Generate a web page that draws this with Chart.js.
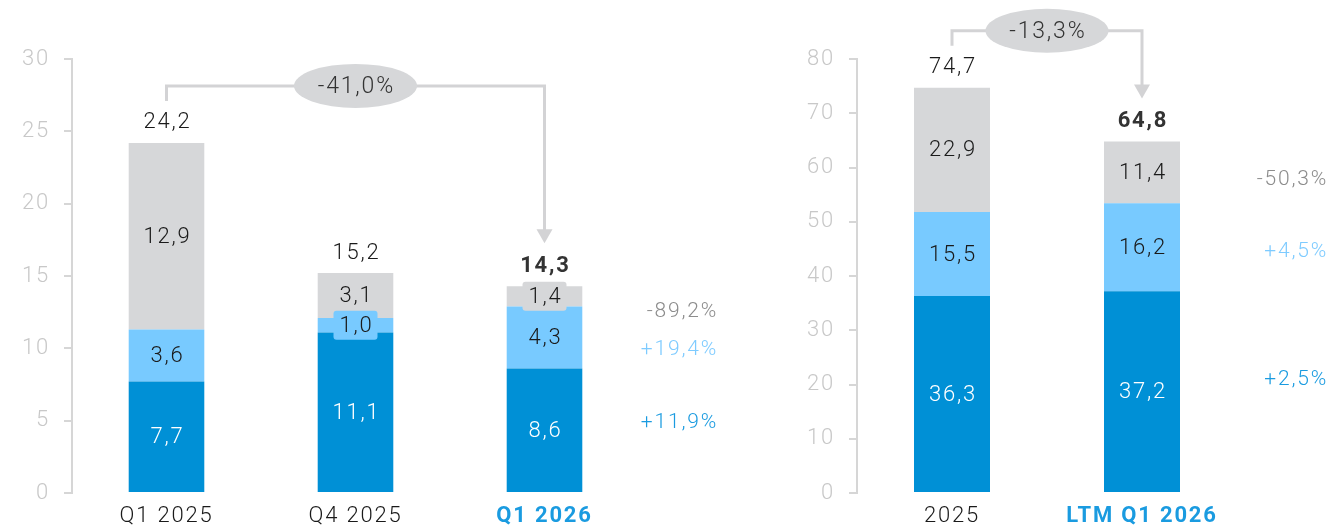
<!DOCTYPE html>
<html><head><meta charset="utf-8">
<script src="https://cdn.jsdelivr.net/npm/chart.js@4/dist/chart.umd.min.js"></script>
<style>
html,body{margin:0;padding:0;background:#fff;width:1333px;height:529px;overflow:hidden}
#c1{position:absolute;left:0;top:0}
#c2{position:absolute;left:740px;top:0}
</style></head><body>
<canvas id="c1" width="740" height="529"></canvas>
<canvas id="c2" width="593" height="529"></canvas>
<script>
// ---- Data: quarterly panel ----
const quarterCategories = ['Q1 2025', 'Q4 2025', 'Q1 2026'];
const quarterBlue  = [7.7, 11.1, 8.6];
const quarterLight = [3.6, 1.0, 4.3];
const quarterGrey  = [12.9, 3.1, 1.4];
const quarterTotals = [24.2, 15.2, 14.3];
const quarterChanges = ['+11,9%', '+19,4%', '-89,2%']; // blue, light, grey
const quarterGrowth = '-41,0%';
const quarterTicks = [0, 5, 10, 15, 20, 25, 30];

// ---- Data: annual panel ----
const yearCategories = ['2025', 'LTM Q1 2026'];
const yearBlue  = [36.3, 37.2];
const yearLight = [15.5, 16.2];
const yearGrey  = [22.9, 11.4];
const yearTotals = [74.7, 64.8];
const yearChanges = ['+2,5%', '+4,5%', '-50,3%']; // blue, light, grey
const yearGrowth = '-13,3%';
const yearTicks = [0, 10, 20, 30, 40, 50, 60, 70, 80];

const FONT = 'Roboto, "Liberation Sans", Arial, sans-serif';
const SPACING = '1.8px';
const COL_BLUE = '#0090d6';
const COL_LIGHT = '#78caff';
const COL_GREY = '#d6d7d9';
const CHANGE_COLORS = ['#1a9be0', '#7ecbff', '#8c8c8c'];

function fmt(v) { return v.toFixed(1).replace('.', ','); }

function centerText(ctx, txt, x, y) {
  // compensate trailing letter spacing so text stays centred
  ctx.textAlign = 'center';
  ctx.fillText(txt, x + 0.9, y);
}

function makePlugin(cfg) {
  return {
    id: 'annotations',
    beforeDraw(chart) { chart.ctx.letterSpacing = SPACING; },
    afterDatasetsDraw(chart) {
      const ctx = chart.ctx;
      const ca = chart.chartArea;
      const ys = chart.scales.y;
      const n = chart.data.labels.length;
      ctx.save();
      ctx.letterSpacing = SPACING;
      // segment labels
      chart.data.datasets.forEach((ds, di) => {
        const meta = chart.getDatasetMeta(di);
        meta.data.forEach((bar, i) => {
          const v = ds.data[i];
          const top = Math.min(bar.y, bar.base), bottom = Math.max(bar.y, bar.base);
          const cy = (top + bottom) / 2;
          if (bottom - top < 32) {
            ctx.fillStyle = ds.backgroundColor;
            ctx.beginPath();
            ctx.roundRect(bar.x - 22, cy - 14.5, 44, 29, 3);
            ctx.fill();
          }
          ctx.fillStyle = di === 0 ? '#ffffff' : '#1a1a1a';
          ctx.font = '300 22px ' + FONT;
          ctx.textBaseline = 'middle';
          centerText(ctx, fmt(v), bar.x, cy + 1);
        });
      });
      // totals
      const lastMeta = chart.getDatasetMeta(chart.data.datasets.length - 1);
      cfg.totals.forEach((t, i) => {
        const x = lastMeta.data[i].x;
        const y = ys.getPixelForValue(t);
        ctx.fillStyle = i === n - 1 ? '#333333' : '#1a1a1a';
        ctx.font = (i === n - 1 ? 'bold ' : '300 ') + '22px ' + FONT;
        ctx.textBaseline = 'middle';
        centerText(ctx, fmt(t), x, y - 20);
      });
      // bracket arrow
      const x0 = lastMeta.data[0].x, xN = lastMeta.data[n - 1].x;
      const y0 = ys.getPixelForValue(cfg.totals[0]);
      const yN = ys.getPixelForValue(cfg.totals[n - 1]);
      const startY = y0 - 42, lineY = startY - 15, tipY = yN - 43;
      ctx.strokeStyle = '#d3d3d5';
      ctx.lineWidth = 3;
      ctx.beginPath();
      ctx.moveTo(x0, startY);
      ctx.lineTo(x0, lineY);
      ctx.lineTo(xN, lineY);
      ctx.lineTo(xN, tipY - 13);
      ctx.stroke();
      ctx.fillStyle = '#d3d3d5';
      ctx.beginPath();
      ctx.moveTo(xN - 8, tipY - 14);
      ctx.lineTo(xN + 8, tipY - 14);
      ctx.lineTo(xN, tipY);
      ctx.closePath();
      ctx.fill();
      const ex = (x0 + xN) / 2;
      ctx.fillStyle = COL_GREY;
      ctx.beginPath();
      ctx.ellipse(ex, lineY, 61.5, 22, 0, 0, Math.PI * 2);
      ctx.fill();
      ctx.fillStyle = '#333333';
      ctx.font = '300 23px ' + FONT;
      ctx.textBaseline = 'middle';
      centerText(ctx, cfg.growth, ex, lineY + 1);
      // change labels next to last bar
      cfg.changes.forEach((txt, di) => {
        const bar = chart.getDatasetMeta(di).data[n - 1];
        const cy = (bar.y + bar.base) / 2 + cfg.changeOffsets[di];
        ctx.fillStyle = CHANGE_COLORS[di];
        ctx.font = '300 21px ' + FONT;
        ctx.textAlign = 'right';
        ctx.textBaseline = 'middle';
        ctx.fillText(txt, ca.right + cfg.changeRight + 2, cy);
      });
      ctx.restore();
    }
  };
}

function build(canvasId, cfg) {
  const ticks = cfg.ticks;
  return new Chart(document.getElementById(canvasId), {
    type: 'bar',
    data: {
      labels: cfg.categories,
      datasets: [
        { data: cfg.blue, backgroundColor: COL_BLUE },
        { data: cfg.light, backgroundColor: COL_LIGHT },
        { data: cfg.grey, backgroundColor: COL_GREY }
      ]
    },
    options: {
      responsive: false,
      animation: false,
      layout: { padding: { top: 59, right: cfg.padRight, bottom: 0, left: 0 } },
      plugins: { legend: { display: false }, tooltip: { enabled: false } },
      datasets: { bar: { categoryPercentage: 1, barPercentage: 0.4, borderWidth: 0 } },
      scales: {
        x: {
          stacked: true,
          grid: { display: false, drawTicks: false },
          border: { display: false },
          afterFit: s => { s.height = 36; },
          ticks: {
            padding: 10,
            maxRotation: 0,
            autoSkip: false,
            color: c => c.index === cfg.categories.length - 1 ? '#1a9be0' : '#1a1a1a',
            font: c => ({ family: FONT, size: 22, weight: c.index === cfg.categories.length - 1 ? 'bold' : '300' })
          }
        },
        y: {
          stacked: true,
          min: ticks[0],
          max: ticks[ticks.length - 1],
          afterFit: s => { s.width = cfg.yWidth; },
          border: { display: true, color: '#d6d6d6', width: 2 },
          grid: { drawOnChartArea: false, color: '#d6d6d6', lineWidth: 2, tickLength: 8 },
          afterBuildTicks: s => { s.ticks = ticks.map(v => ({ value: v })); },
          ticks: {
            padding: 14,
            color: '#c8c8c8',
            font: { family: FONT, size: 22, weight: '300' }
          }
        }
      }
    },
    plugins: [makePlugin(cfg)]
  });
}

build('c1', {
  categories: quarterCategories, blue: quarterBlue, light: quarterLight, grey: quarterGrey,
  totals: quarterTotals, changes: quarterChanges, growth: quarterGrowth, ticks: quarterTicks,
  yWidth: 72, padRight: 101, changeRight: 77, changeOffsets: [-8, 12, 15]
});
build('c2', {
  categories: yearCategories, blue: yearBlue, light: yearLight, grey: yearGrey,
  totals: yearTotals, changes: yearChanges, growth: yearGrowth, ticks: yearTicks,
  yWidth: 117, padRight: 96, changeRight: 89, changeOffsets: [-12, 5, 7]
});
</script>
</body></html>
